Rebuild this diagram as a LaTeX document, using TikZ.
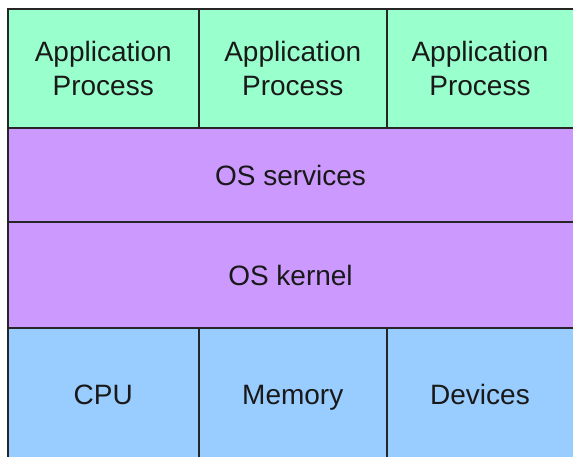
\documentclass[tikz,border=0pt]{standalone}
\usepackage{fontspec}
\setmainfont{Liberation Sans}

\definecolor{appgreen}{HTML}{99FFCC}
\definecolor{ospurple}{HTML}{CC99FF}
\definecolor{hwblue}{HTML}{99CCFF}

\tikzset{
  layer/.style={draw=black!85, line width=2pt, anchor=north west,
    inner sep=0pt, outer sep=0pt, align=center,
    font=\fontsize{28}{34}\selectfont, text=black!90},
  oneline/.style={text height=20pt, text depth=0pt},
  app/.style={layer, fill=appgreen, minimum height=119pt},
  os/.style={layer, oneline, fill=ospurple, minimum width=575pt},
  hw/.style={layer, oneline, fill=hwblue, minimum height=132pt}
}

\begin{document}
\begin{tikzpicture}[x=1pt,y=-1pt]
  \clip (0,0) rectangle (573,457);

  % application processes on top
  \node[app, minimum width=190.5pt] (app1) at (8,9)     {Application\\Process};
  \node[app, minimum width=188.5pt] (app2) at (198.5,9) {Application\\Process};
  \node[app, minimum width=196pt]   (app3) at (387,9)   {\hspace*{-10pt}Application\\\hspace*{-10pt}Process};

  % operating system layers
  \node[os, minimum height=94.5pt]  (services) at (8,128)   {\hspace*{-10pt}OS services};
  \node[os, minimum height=105.5pt] (kernel)   at (8,222.5) {\hspace*{-10pt}OS kernel};

  % hardware at the bottom
  \node[hw, minimum width=190.5pt] (cpu)     at (8,328)     {CPU};
  \node[hw, minimum width=188.5pt] (memory)  at (198.5,328) {Memory};
  \node[hw, minimum width=196pt]   (devices) at (387,328)   {\hspace*{-10pt}Devices};

\end{tikzpicture}
\end{document}
